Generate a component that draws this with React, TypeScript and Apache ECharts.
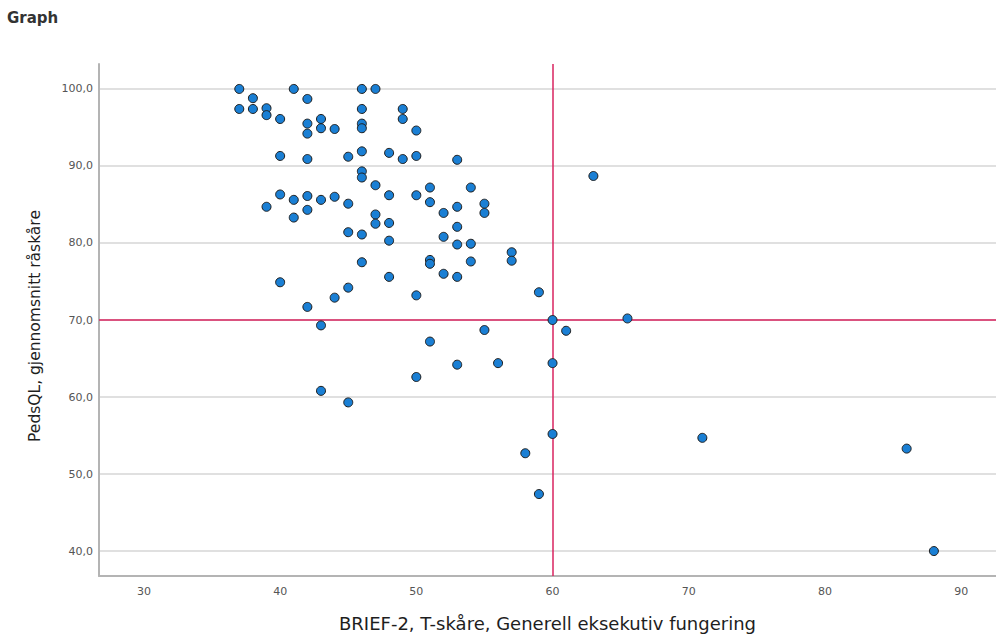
import React, { useEffect, useRef } from "react";
import * as echarts from "echarts";

// BRIEF-2 T-score (x) and PedsQL mean raw score (y)
const briefScores: number[] = [
  37, 38, 37, 38, 39, 39, 40, 41, 42, 42, 42, 43, 43, 44, 40, 42, 45, 40, 41, 42,
  43, 44, 45, 39, 41, 42, 45, 46, 47, 46, 46, 46, 49, 49, 50, 46, 48, 49, 50, 53,
  46, 46, 47, 48, 50, 51, 51, 54, 47, 47, 48, 52, 53, 55, 55, 46, 48, 52, 53, 53,
  54, 57, 57, 46, 51, 51, 54, 40, 45, 44, 42, 48, 52, 53, 50, 43, 55, 51, 53, 56,
  50, 43, 45, 63, 59, 60, 65.5, 61, 60, 60, 58, 59, 71, 86, 88,
];
const pedsqlScores: number[] = [
  100, 98.8, 97.4, 97.4, 97.5, 96.6, 96.1, 100, 98.7, 95.5, 94.2, 96.1, 94.9, 94.8, 91.3, 90.9, 91.2, 86.3, 85.6, 86.1,
  85.6, 86.0, 85.1, 84.7, 83.3, 84.3, 81.4, 100, 100, 97.4, 95.5, 94.9, 97.4, 96.1, 94.6, 91.9, 91.7, 90.9, 91.3, 90.8,
  89.3, 88.5, 87.5, 86.2, 86.2, 87.2, 85.3, 87.2, 83.7, 82.5, 82.6, 83.9, 84.7, 85.1, 83.9, 81.1, 80.3, 80.8, 82.1, 79.8,
  79.9, 78.8, 77.7, 77.5, 77.8, 77.3, 77.6, 74.9, 74.2, 72.9, 71.7, 75.6, 76.0, 75.6, 73.2, 69.3, 68.7, 67.2, 64.2, 64.4,
  62.6, 60.8, 59.3, 88.7, 73.6, 70.0, 70.2, 68.6, 64.4, 55.2, 52.7, 47.4, 54.7, 53.3, 40.0,
];

const xTicks: number[] = [30, 40, 50, 60, 70, 80, 90];
const yTicks: number[] = [40, 50, 60, 70, 80, 90, 100];
const referenceX = 60;
const referenceY = 70;

const chartTitle = "Graph";
const xTitle = "BRIEF-2, T-skåre, Generell eksekutiv fungering";
const yTitle = "PedsQL, gjennomsnitt råskåre";

const FONT = "DejaVu Sans";

export default function App() {
  const ref = useRef<HTMLDivElement>(null);

  useEffect(() => {
    if (!ref.current) return;
    const chart = echarts.init(ref.current, null, { renderer: "svg" });
    const points = briefScores.map((x, i) => [x, pedsqlScores[i]]);

    chart.setOption({
      animation: false,
      backgroundColor: "#ffffff",
      title: {
        text: chartTitle,
        left: 7,
        top: 10,
        padding: 0,
        textStyle: { fontFamily: FONT, fontSize: 15, fontWeight: "bold", color: "#333333" },
      },
      grid: { left: 99, top: 64, right: 0, bottom: 61, containLabel: false },
      xAxis: {
        type: "value",
        min: 26.7,
        max: 92.56,
        name: xTitle,
        nameLocation: "middle",
        nameGap: 38,
        nameTextStyle: { fontFamily: FONT, fontSize: 18, color: "#1e1e1e" },
        axisLine: { show: true, onZero: false, lineStyle: { color: "#b4b4b4", width: 2 } },
        axisTick: { show: false, customValues: xTicks },
        axisLabel: {
          customValues: xTicks,
          margin: 10,
          fontFamily: FONT,
          fontSize: 11,
          color: "#555555",
        },
        splitLine: { show: false },
      },
      yAxis: {
        type: "value",
        min: 36.76,
        max: 103.24,
        name: yTitle,
        nameLocation: "middle",
        nameGap: 56,
        nameTextStyle: { fontFamily: FONT, fontSize: 15.5, color: "#1e1e1e", padding: [0, 12, 0, 0] },
        axisLine: { show: true, onZero: false, lineStyle: { color: "#b4b4b4", width: 2 } },
        axisTick: { show: false, customValues: yTicks },
        axisLabel: {
          customValues: yTicks,
          margin: 6,
          fontFamily: FONT,
          fontSize: 11,
          color: "#555555",
          formatter: (v: number) => v.toFixed(1).replace(".", ","),
        },
        splitLine: { show: true, lineStyle: { color: "#d6d6d6", width: 1.5 } },
      },
      series: [
        {
          type: "scatter",
          data: points,
          symbol: "circle",
          symbolSize: 9,
          itemStyle: { color: "#1a7fd4", borderColor: "#1e1e1e", borderWidth: 1, opacity: 1 },
          z: 3,
          markLine: {
            silent: true,
            symbol: "none",
            label: { show: false },
            lineStyle: { color: "#d8235f", width: 1.5, type: "solid" },
            data: [{ xAxis: referenceX }, { yAxis: referenceY }],
            z: 2,
          },
        },
      ],
    });

    return () => chart.dispose();
  }, []);

  return (
    <div
      ref={ref}
      style={{ position: "fixed", left: 0, top: 0, width: 996, height: 637, background: "#fff" }}
    />
  );
}
